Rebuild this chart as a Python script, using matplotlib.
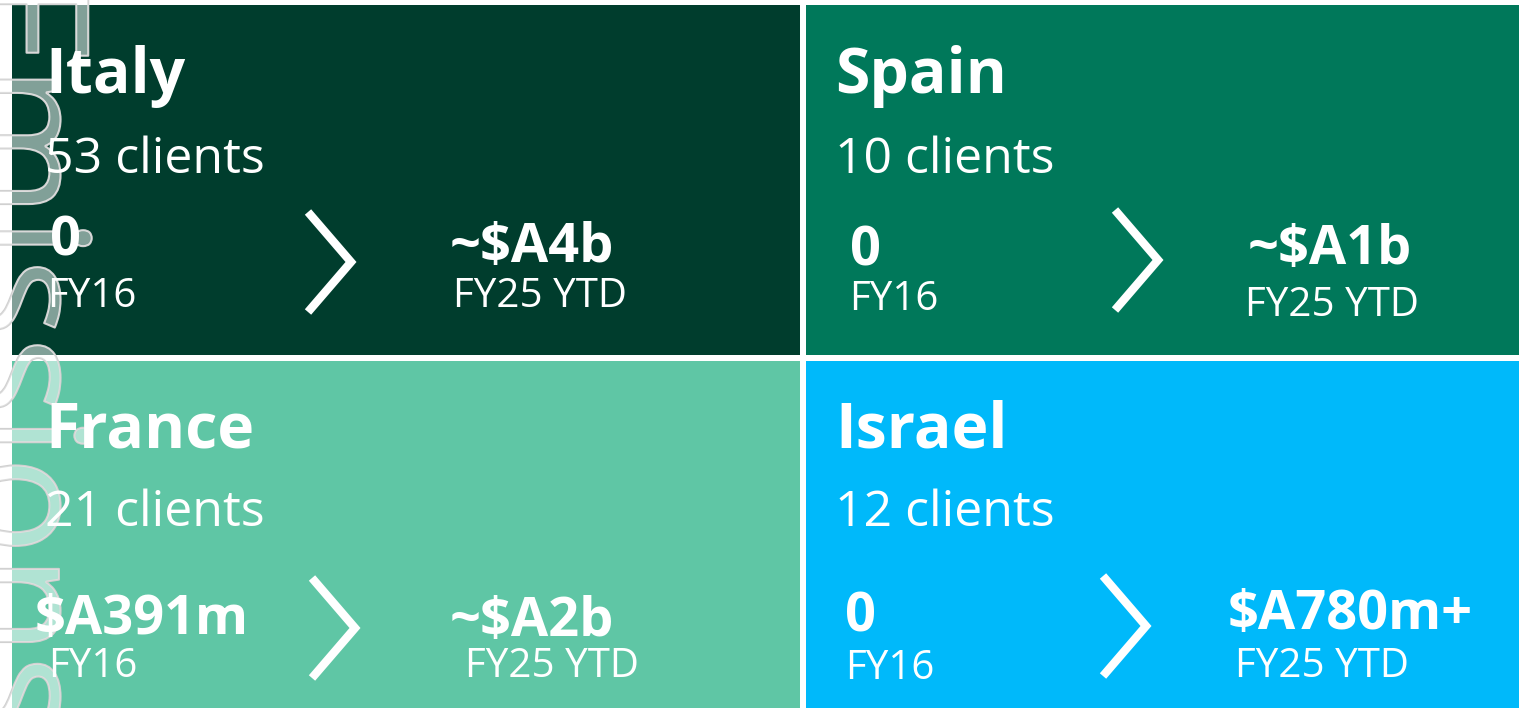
import matplotlib
matplotlib.use('Agg')
import matplotlib.pyplot as plt
import matplotlib.patheffects as pe
from matplotlib.patches import Rectangle

# data
countries = ['Italy', 'Spain', 'France', 'Israel']
clients = [53, 10, 21, 12]
fy16_vals = ['0', '0', '$A391m', '0']
fy25_vals = ['~$A4b', '~$A1b', '~$A2b', '$A780m+']
fy16_label = 'FY16'
fy25_label = 'FY25 YTD'
colors = ['#003D2D', '#00785A', '#5FC6A5', '#00B9FA']

W, H = 1519, 708
fig = plt.figure(figsize=(W / 100, H / 100), dpi=100)
ax = fig.add_axes([0, 0, 1, 1])
ax.set_xlim(0, W); ax.set_ylim(H, 0); ax.axis('off')

font = 'Open Sans'

# panel boxes: (x0, y0, x1, y1)
boxes = [(12, 5, 800, 355), (806, 5, 1519, 355),
         (12, 361, 800, 708), (806, 361, 1519, 708)]
# layout offsets inside each panel (title, clients, fy16 value/label, chevron, fy25 value/label)
lay = [
    dict(t=(33, 72), c=(33, 155), v0=(38, 237), l0=(35, 292), ch=(296, 207), v1=(438, 243), l1=(441, 292)),
    dict(t=(29, 72), c=(29, 155), v0=(44, 247), l0=(43, 295), ch=(309, 205), v1=(442, 245), l1=(439, 301)),
    dict(t=(33, 70), c=(33, 152), v0=(23, 259), l0=(36, 306), ch=(300, 217), v1=(438, 261), l1=(453, 306)),
    dict(t=(29, 70), c=(29, 152), v0=(39, 256), l0=(39, 308), ch=(297, 215), v1=(422, 254), l1=(429, 306)),
]

for i in range(4):
    x0, y0, x1, y1 = boxes[i]
    ax.add_patch(Rectangle((x0, y0), x1 - x0, y1 - y0, color=colors[i], lw=0, zorder=1))
    L = lay[i]
    ax.text(x0 + L['t'][0], y0 + L['t'][1], countries[i], color='white', fontsize=45,
            fontweight='bold', family=font, va='center', ha='left', zorder=5)
    ax.text(x0 + L['c'][0], y0 + L['c'][1], f'{clients[i]} clients', color='white', fontsize=36,
            family=font, va='center', ha='left', zorder=5)
    ax.text(x0 + L['v0'][0], y0 + L['v0'][1], fy16_vals[i], color='white', fontsize=39,
            fontweight='bold', family=font, va='center', ha='left', zorder=5)
    ax.text(x0 + L['l0'][0], y0 + L['l0'][1], fy16_label, color='white', fontsize=29,
            family=font, va='center', ha='left', zorder=5)
    ax.text(x0 + L['v1'][0], y0 + L['v1'][1], fy25_vals[i], color='white', fontsize=39,
            fontweight='bold', family=font, va='center', ha='left', zorder=5)
    ax.text(x0 + L['l1'][0], y0 + L['l1'][1], fy25_label, color='white', fontsize=29,
            family=font, va='center', ha='left', zorder=5)
    cx, cy = x0 + L['ch'][0], y0 + L['ch'][1]
    ax.plot([cx, cx + 43, cx], [cy, cy + 50, cy + 100], color='white', lw=6,
            solid_joinstyle='miter', solid_capstyle='butt', zorder=5)

# faint outlined watermark text along the left edge, partly off the page
wm = ax.text(14, H / 2, 'Emissions', rotation=270, fontsize=118, family=font,
             color=(1, 1, 1, 0.3), va='center', ha='center', zorder=3)
wm.set_path_effects([pe.withStroke(linewidth=1.5, foreground='#d0d0d0')])

plt.savefig('out.png', dpi=100, facecolor='white')
